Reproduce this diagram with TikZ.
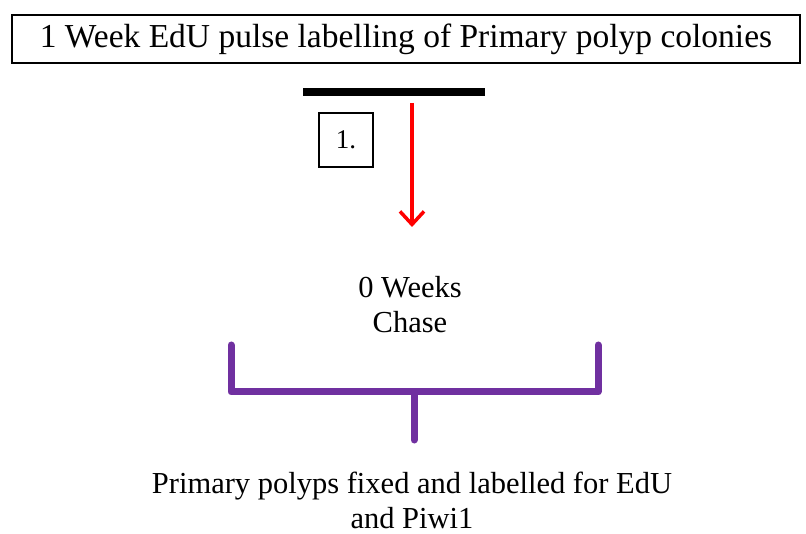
\documentclass[tikz,border=0pt]{standalone}
\usepackage{fontspec}
\setmainfont{Liberation Serif}
\usetikzlibrary{arrows.meta,positioning}
\definecolor{ArrowRed}{HTML}{FF0000}
\definecolor{Bracket}{HTML}{7030A0}

\begin{document}
\begin{tikzpicture}[
  x=1pt,y=-1pt,
  titlebox/.style={draw,line width=1.3pt,minimum width=788pt,minimum height=48pt,inner sep=0pt,font=\fontsize{33.5}{36}\selectfont},
  stepbox/.style={draw,line width=1.3pt,minimum width=54pt,minimum height=54pt,inner sep=0pt,font=\fontsize{27}{30}\selectfont},
  label/.style={align=center,inner sep=0pt,font=\fontsize{30.5}{35}\selectfont},
  bar/.style={fill=black,minimum width=182pt,minimum height=8pt,inner sep=0pt},
  redarrow/.style={-{Straight Barb[length=13pt,width=24pt,line width=3.5pt]},line width=3.5pt,draw=ArrowRed},
  bracketline/.style={line width=7pt,draw=Bracket,line cap=round,line join=round}
]
\useasboundingbox (0,0) rectangle (806,534);
\node[titlebox] (pulse) at (406,39) {1 Week EdU pulse labelling of Primary polyp colonies};
\node[bar] (line) at (394,92) {};
\node[stepbox] (one) at (346,140) {1.};
\node[label] (chase) at (410,305) {0 Weeks\\Chase};
\node[label] (fixed) at (412,500) {Primary polyps fixed and labelled for EdU\\and Piwi1};
\coordinate (arrtop) at (412,103);
\coordinate (arrend) at (412,227);
\coordinate (brL) at (231,345);
\coordinate (brR) at (598,345);
\coordinate (brmid) at (414,392);
\coordinate (stemend) at (414,440);
\draw[redarrow] (arrtop) -- (arrend);
\draw[bracketline] (brL) -- (brL |- brmid) -- (brR |- brmid) -- (brR);
\draw[bracketline] (brmid) -- (stemend);
\end{tikzpicture}
\end{document}
